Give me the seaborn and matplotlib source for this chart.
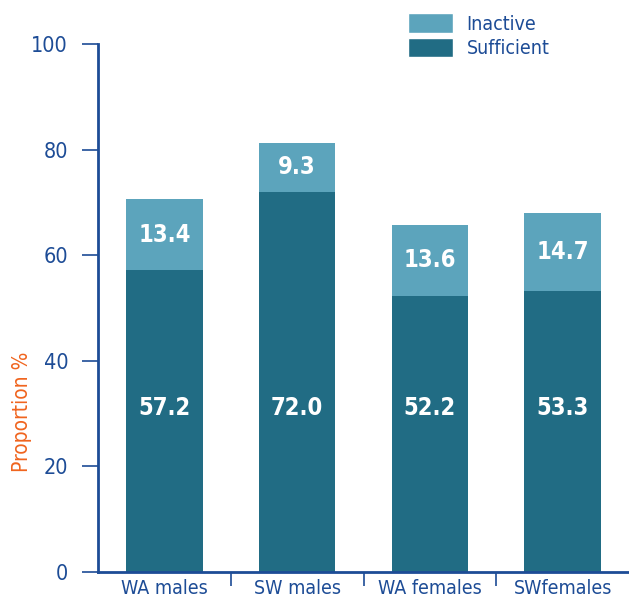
import matplotlib
matplotlib.use('Agg')
import matplotlib.pyplot as plt
import seaborn as sns
import pandas as pd
from matplotlib.patches import Patch
from matplotlib.ticker import FixedLocator

groups = ['WA males', 'SW males', 'WA females', 'SWfemales']
sufficient = [57.2, 72.0, 52.2, 53.3]
inactive = [13.4, 9.3, 13.6, 14.7]
yticks = [0, 20, 40, 60, 80, 100]

DARK = '#216C84'
LIGHT = '#5CA4BC'
NAVY = '#1D4C96'
ORANGE = '#F0641E'

sns.set_theme(style='white')
plt.rcParams['font.family'] = ['DejaVu Sans']
plt.rcParams['font.stretch'] = 'condensed'

fig = plt.figure(figsize=(6.29, 5.99), dpi=100)
ax = fig.add_axes([98/629, 27/599, 531/629, 528/599])

df = pd.DataFrame({'group': groups, 'sufficient': sufficient, 'inactive': inactive})
df['total'] = df['sufficient'] + df['inactive']

sns.barplot(data=df, x='group', y='total', color=LIGHT, width=0.575,
            saturation=1, ax=ax, errorbar=None, linewidth=0)
sns.barplot(data=df, x='group', y='sufficient', color=DARK, width=0.575,
            saturation=1, ax=ax, errorbar=None, linewidth=0)

for i, (s, n) in enumerate(zip(sufficient, inactive)):
    ax.text(i, 31, f'{s:.1f}', ha='center', va='center', color='white',
            fontsize=17, fontweight='bold')
    ax.text(i, s + n / 2, f'{n:.1f}', ha='center', va='center', color='white',
            fontsize=17, fontweight='bold')

ax.set_xlim(-0.5, 3.5)
ax.set_ylim(0, 100)
ax.set_yticks(yticks)
ax.set_xlabel('')
ax.set_ylabel('Proportion %', color=ORANGE, fontsize=15)
ax.yaxis.set_label_coords(-0.124, 0.303)

for side in ['top', 'right']:
    ax.spines[side].set_visible(False)
for side in ['left', 'bottom']:
    ax.spines[side].set_color(NAVY)
    ax.spines[side].set_linewidth(2)

ax.tick_params(axis='y', which='major', direction='out', length=11.5, width=1.2,
               color=NAVY, labelcolor=NAVY, labelsize=15.5, pad=10, left=True)
ax.tick_params(axis='x', which='major', length=0, labelcolor=NAVY, labelsize=14, pad=5)
ax.xaxis.set_minor_locator(FixedLocator([0.5, 1.5, 2.5]))
ax.tick_params(axis='x', which='minor', direction='out', length=10, width=1.2,
               color=NAVY, bottom=True)

handles = [Patch(facecolor=LIGHT, label='Inactive'),
           Patch(facecolor=DARK, label='Sufficient')]
leg = ax.legend(handles=handles, loc='upper left', bbox_to_anchor=(0.584, 1.058),
                frameon=False, fontsize=14, handlelength=2.3, handleheight=1.15,
                labelspacing=0.2, handletextpad=0.7, borderaxespad=0, borderpad=0)
for t in leg.get_texts():
    t.set_color(NAVY)

fig.savefig('out.png', dpi=100)
